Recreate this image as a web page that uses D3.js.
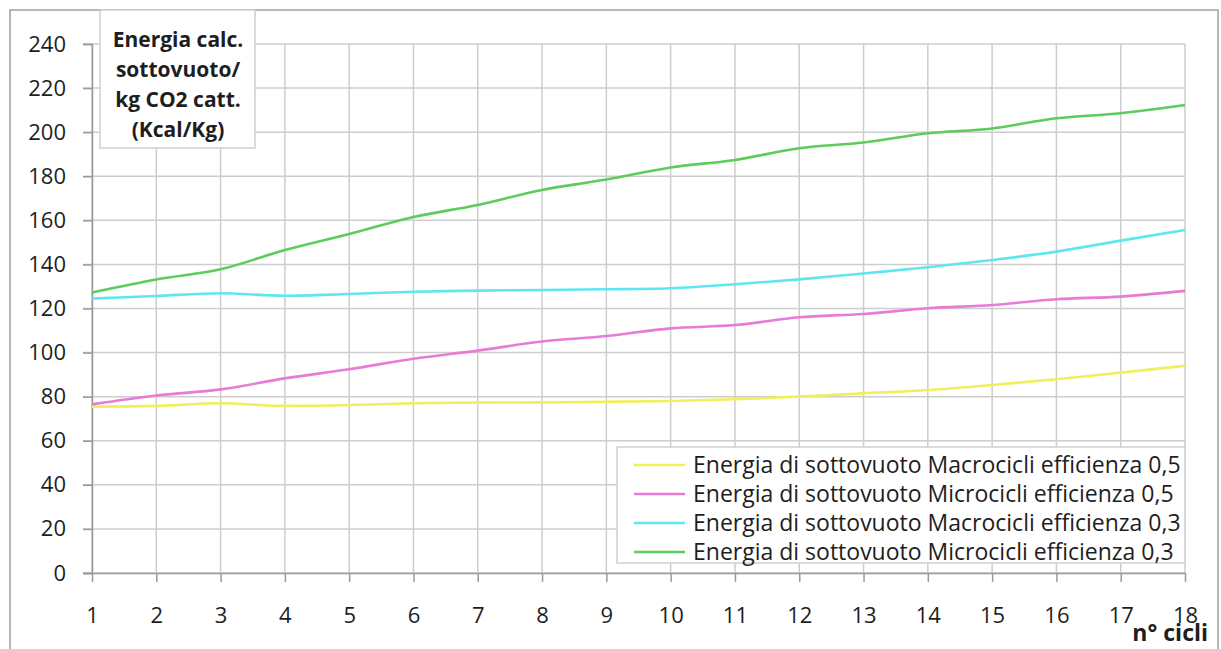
<!DOCTYPE html>
<html>
<head>
<meta charset="utf-8">
<script src="https://cdn.jsdelivr.net/npm/d3@7"></script>
<style>
  html, body { margin: 0; padding: 0; background: #fff; }
  svg { display: block; }
  text { font-family: "Open Sans", "DejaVu Sans", sans-serif; fill: #1e1e1e; }
</style>
</head>
<body>
<svg id="chart" width="1221" height="649"></svg>
<script>
// ---- data ----
const cycles = [1, 2, 3, 4, 5, 6, 7, 8, 9, 10, 11, 12, 13, 14, 15, 16, 17, 18];
const yTicks = [0, 20, 40, 60, 80, 100, 120, 140, 160, 180, 200, 220, 240];
const seriesNames = [
  "Energia di sottovuoto Macrocicli efficienza 0,5",
  "Energia di sottovuoto Microcicli efficienza 0,5",
  "Energia di sottovuoto Macrocicli efficienza 0,3",
  "Energia di sottovuoto Microcicli efficienza 0,3"
];
const macro05 = [75.5, 75.8, 77.0, 75.8, 76.2, 77.0, 77.3, 77.4, 77.7, 78.0, 78.8, 80.0, 81.5, 83.0, 85.3, 87.9, 90.9, 94.0];
const micro05 = [76.5, 80.5, 83.3, 88.3, 92.4, 97.2, 100.9, 105.0, 107.5, 111.0, 112.5, 116.0, 117.5, 120.1, 121.6, 124.2, 125.4, 128.0];
const macro03 = [124.5, 125.7, 126.9, 125.8, 126.6, 127.6, 128.1, 128.4, 128.7, 129.2, 131.0, 133.2, 135.9, 138.7, 142.0, 145.8, 150.8, 155.6];
const micro03 = [127.3, 133.2, 137.8, 146.5, 153.8, 161.5, 167.0, 173.8, 178.5, 184.0, 187.4, 192.7, 195.3, 199.5, 201.7, 206.3, 208.6, 212.3];
const colors = ["#f0ef5c", "#e77bd6", "#5fe6ee", "#5ccc5a"];
const titleLines = ["Energia calc.", "sottovuoto/", "kg CO2 catt.", "(Kcal/Kg)"];
const xTitle = "n° cicli";

const allSeries = [macro05, micro05, macro03, micro03];

const svg = d3.select("#chart");

// frame
svg.append("rect")
  .attr("x", 10).attr("y", 10).attr("width", 1208).attr("height", 680)
  .attr("fill", "none").attr("stroke", "#a0a0a0").attr("stroke-width", 1.5);

const x = d3.scaleLinear().domain([1, 18]).range([92, 1185]);
const y = d3.scaleLinear().domain([0, 240]).range([573, 44]);

// grid
const grid = svg.append("g");
grid.selectAll("line.h").data(yTicks).join("line")
  .attr("x1", x(1) - 9).attr("x2", x(18))
  .attr("y1", d => y(d)).attr("y2", d => y(d))
  .attr("stroke", "#cdcdcd").attr("stroke-width", 1.5);
grid.selectAll("line.v").data(cycles).join("line")
  .attr("x1", d => x(d)).attr("x2", d => x(d))
  .attr("y1", y(240)).attr("y2", y(0))
  .attr("stroke", "#cdcdcd").attr("stroke-width", 1.5);

// axes
const yAxis = svg.append("g")
  .attr("transform", `translate(${x(1)},0)`)
  .call(d3.axisLeft(y).tickValues(yTicks).tickSize(9).tickPadding(17));
const xAxis = svg.append("g")
  .attr("transform", `translate(0,${y(0)})`)
  .call(d3.axisBottom(x).tickValues(cycles).tickSize(9).tickPadding(25).tickFormat(d3.format("d")));
[yAxis, xAxis].forEach(a => {
  a.select(".domain").attr("stroke", "#9a9a9a").attr("stroke-width", 1.5);
  a.selectAll(".tick line").attr("stroke", "#9a9a9a").attr("stroke-width", 1.5);
  a.selectAll("text").style("font-size", "22px").attr("fill", "#1e1e1e");
});
xAxis.select(".domain").attr("d", `M${x(1) - 9},0.5H${x(18)}`);

// lines
const line = d3.line()
  .x((d, i) => x(cycles[i]))
  .y(d => y(d))
  .curve(d3.curveMonotoneX);
svg.append("g").selectAll("path").data(allSeries).join("path")
  .attr("d", d => line(d))
  .attr("fill", "none")
  .attr("stroke", (d, i) => colors[i])
  .attr("stroke-width", 2.6)
  .attr("stroke-linejoin", "round");

// title box
const tb = svg.append("g");
tb.append("rect").attr("x", 100).attr("y", 10).attr("width", 155).attr("height", 138)
  .attr("fill", "#fff").attr("stroke", "#cfcfcf").attr("stroke-width", 1.5);
tb.selectAll("text").data(titleLines).join("text")
  .attr("x", 178).attr("y", (d, i) => 47 + i * 30)
  .attr("text-anchor", "middle")
  .style("font-size", "21px").style("font-weight", "bold")
  .text(d => d);

// legend
const lg = svg.append("g");
lg.append("rect").attr("x", 617).attr("y", 447).attr("width", 568).attr("height", 116)
  .attr("fill", "#fff").attr("stroke", "#cfcfcf").attr("stroke-width", 1.5);
const rows = lg.selectAll("g.row").data(seriesNames).join("g")
  .attr("transform", (d, i) => `translate(0,${465 + i * 29})`);
rows.append("line").attr("x1", 634).attr("x2", 685).attr("y1", 0).attr("y2", 0)
  .attr("stroke", (d, i) => colors[i]).attr("stroke-width", 2.6);
rows.append("text").attr("x", 693).attr("y", 0).attr("dy", "0.35em")
  .style("font-size", "23px").text(d => d);

// x title
svg.append("text").attr("x", 1208).attr("y", 641).attr("text-anchor", "end")
  .style("font-size", "23px").style("font-weight", "bold").text(xTitle);
</script>
</body>
</html>
